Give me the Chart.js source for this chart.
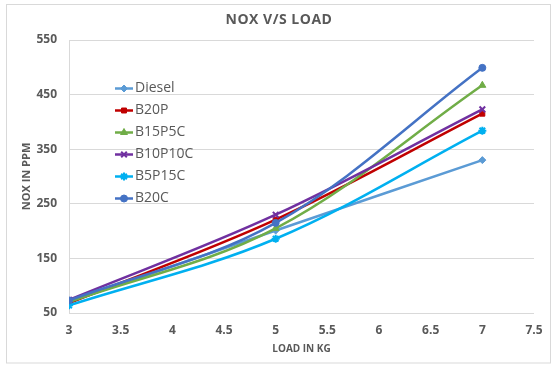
<!DOCTYPE html>
<html>
<head>
<meta charset="utf-8">
<script src="https://cdn.jsdelivr.net/npm/chart.js@4/dist/chart.umd.min.js"></script>
<style>
  html, body { margin: 0; padding: 0; background: #ffffff; }
  #wrap { width: 556px; height: 370px; }
</style>
</head>
<body>
<div id="wrap"><canvas id="c" width="556" height="370"></canvas></div>
<script>
const chartTitle = "NOX V/S LOAD";
const xTitle = "LOAD IN KG";
const yTitle = "NOX IN PPM";
const loads = [3, 5, 7];
const seriesNames = ["Diesel", "B20P", "B15P5C", "B10P10C", "B5P15C", "B20C"];
const diesel  = [70, 201, 330];
const b20p    = [68, 221, 415];
const b15p5c  = [70, 205, 467];
const b10p10c = [74, 230, 423];
const b5p15c  = [64, 186, 384];
const b20c    = [73, 215, 499];
const xTicks = [3, 3.5, 4, 4.5, 5, 5.5, 6, 6.5, 7, 7.5];
const yTicks = [50, 150, 250, 350, 450, 550];

const seriesValues = [diesel, b20p, b15p5c, b10p10c, b5p15c, b20c];
const colors = ["#5B9BD5", "#C00000", "#70AD47", "#7030A0", "#00B0F0", "#4472C4"];
const styles = ["rectRot", "rect", "triangle", "crossRot", "star", "circle"];
const radii = [3.5, 3.5, 4, 4, 4, 3.5];
const TEXT = "#595959";
const GRID = "#d9d9d9";

const datasets = seriesNames.map((name, i) => ({
  label: name,
  data: loads.map((x, j) => ({ x: x, y: seriesValues[i][j] })),
  showLine: true,
  borderColor: colors[i],
  backgroundColor: colors[i],
  borderWidth: 2.5,
  tension: 0.35,
  pointStyle: styles[i],
  pointRadius: radii[i],
  pointBorderWidth: (styles[i] === "crossRot" || styles[i] === "star") ? 2 : 1,
  pointBackgroundColor: colors[i],
  pointBorderColor: colors[i],
  order: seriesNames.length - 1 - i
}));

const framePlugin = {
  id: "frame",
  beforeDraw(chart) {
    const ctx = chart.ctx;
    ctx.save();
    ctx.fillStyle = "#ffffff";
    ctx.fillRect(0, 0, chart.width, chart.height);
    ctx.strokeStyle = GRID;
    ctx.lineWidth = 1;
    ctx.strokeRect(6.5, 4.5, 544, 358.5);
    ctx.restore();
  },
  afterDraw(chart) {
    const ctx = chart.ctx;
    ctx.save();
    ctx.fillStyle = TEXT;
    ctx.font = "bold 14px 'Open Sans'";
    try { ctx.letterSpacing = "0.5px"; } catch (e) {}
    ctx.textAlign = "center";
    ctx.textBaseline = "middle";
    ctx.fillText(chartTitle, 279, 20);
    try { ctx.letterSpacing = "0px"; } catch (e) {}
    const lx = 115, ly = 88.5, step = 22;
    chart.data.datasets.forEach((ds, i) => {
      const y = ly + i * step;
      ctx.strokeStyle = ds.borderColor;
      ctx.lineWidth = 2.5;
      ctx.beginPath();
      ctx.moveTo(lx, y);
      ctx.lineTo(lx + 18, y);
      ctx.stroke();
      ctx.fillStyle = ds.backgroundColor;
      ctx.strokeStyle = ds.borderColor;
      ctx.lineWidth = ds.pointBorderWidth;
      Chart.helpers.drawPoint(ctx, { pointStyle: ds.pointStyle, radius: ds.pointRadius, rotation: 0, borderWidth: ds.pointBorderWidth }, lx + 9, y);
      ctx.fillStyle = TEXT;
      ctx.font = "14px 'Open Sans'";
      ctx.textAlign = "left";
      ctx.textBaseline = "middle";
      ctx.fillText(ds.label, lx + 20, y);
    });
    ctx.restore();
  }
};

new Chart(document.getElementById("c"), {
  type: "scatter",
  data: { datasets: datasets },
  options: {
    responsive: false,
    animation: false,
    devicePixelRatio: 1,
    layout: { padding: { left: 16, right: 22, top: 40, bottom: 11 } },
    plugins: {
      legend: { display: false },
      title: { display: false },
      tooltip: { enabled: false }
    },
    scales: {
      x: {
        type: "linear",
        min: 3,
        max: 7.5,
        afterBuildTicks(scale) { scale.ticks = xTicks.map(v => ({ value: v })); },
        afterFit(scale) { scale.height = 46; },
        grid: { display: false, drawTicks: false },
        border: { display: false },
        ticks: {
          color: TEXT,
          font: { family: "'Open Sans'", size: 12, weight: "bold" },
          padding: 10,
          maxRotation: 0,
          autoSkip: false,
          callback: (v) => String(v)
        },
        title: {
          display: true,
          text: xTitle,
          color: TEXT,
          font: { family: "'Open Sans'", size: 10, weight: "bold" },
          padding: { top: 4, bottom: 4 }
        }
      },
      y: {
        type: "linear",
        min: 50,
        max: 550,
        afterBuildTicks(scale) { scale.ticks = yTicks.map(v => ({ value: v })); },
        afterFit(scale) { scale.width = 53; },
        grid: { color: GRID, lineWidth: 1, drawTicks: false },
        border: { display: true, color: GRID, width: 1 },
        ticks: {
          color: TEXT,
          font: { family: "'Open Sans'", size: 12, weight: "bold" },
          padding: 12,
          autoSkip: false,
          callback: (v) => String(v)
        },
        title: {
          display: true,
          text: yTitle,
          color: TEXT,
          font: { family: "'Open Sans'", size: 11, weight: "bold" },
          padding: { top: 4, bottom: 4 }
        }
      }
    }
  },
  plugins: [framePlugin]
});
</script>
</body>
</html>
